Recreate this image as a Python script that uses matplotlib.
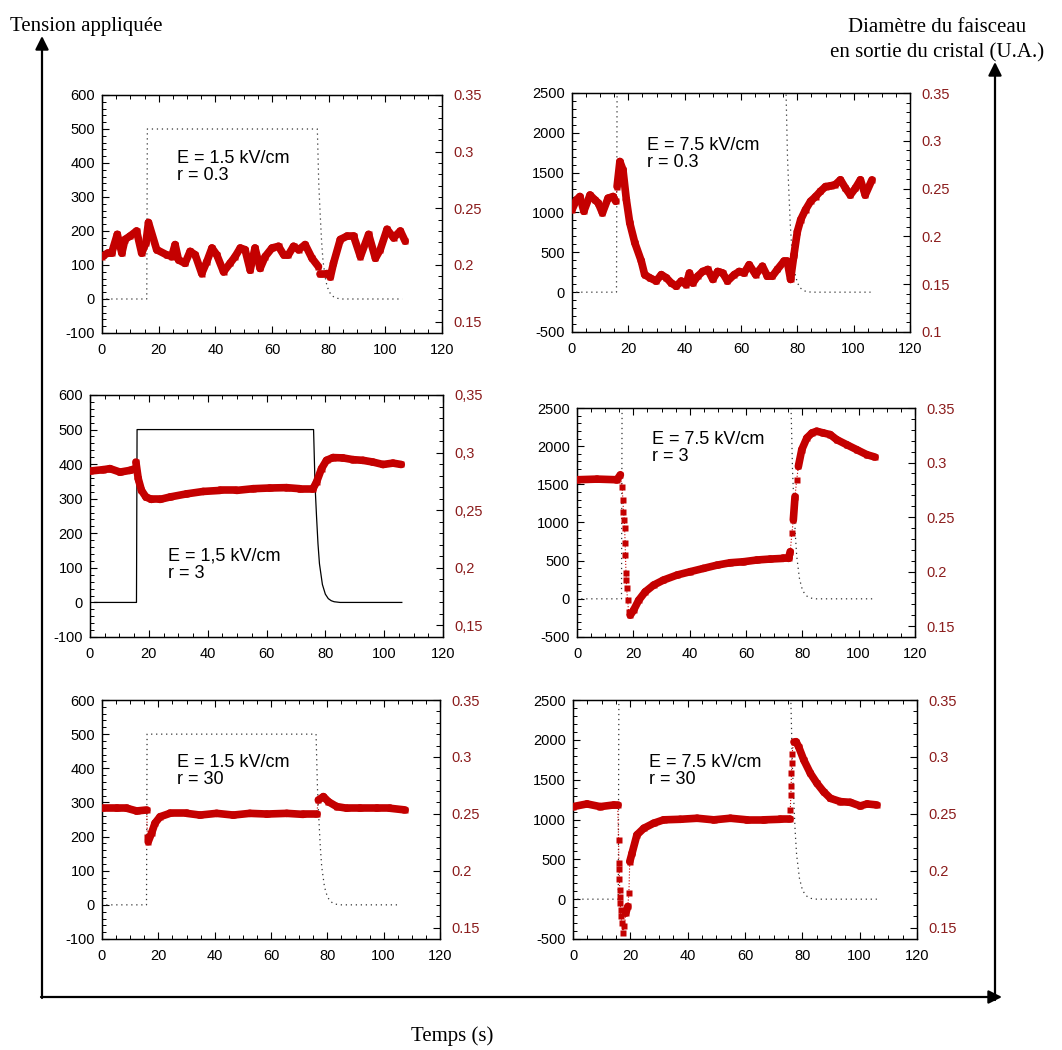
import numpy as np
import matplotlib.pyplot as plt
from matplotlib.collections import LineCollection
from matplotlib.ticker import MultipleLocator, FuncFormatter

plt.rcParams['axes.unicode_minus'] = False

RED = '#C40000'
TICK_RED = '#8B1C1C'
SANS = 'Liberation Sans'
SERIF = 'Liberation Serif'

# applied voltage (V) vs time (s)
t_volt = [1.5, 15.8, 16.0, 76.0, 76.5, 77.0, 77.5, 78.0, 79.0, 80.0, 81.0, 82.0, 83.0, 84.0, 85.0, 106.0]
v_15 = [0, 0, 500, 500, 340, 250, 170, 112, 52, 24, 11, 5, 2, 1, 0, 0]
v_75 = [0, 0, 2500, 2500, 1700, 1250, 850, 560, 260, 120, 55, 25, 10, 4, 0, 0]

# beam diameter (U.A.) vs time (s)
t_a = [0, 2, 3.4, 5.4, 7, 8.1, 9.9, 12.2, 14, 15.5, 16.4, 19.3, 22.8, 24.6, 25.8, 27, 29.3, 31.1,
       32.9, 35.2, 37, 38.8, 40.5, 42.9, 45.2, 47, 48.8, 50.5, 52.3, 54, 55.8, 57.6, 60, 62.3, 64.1,
       65.8, 67.6, 69.4, 71.7, 74.1, 76.4, 77, 79.4, 80.6, 81.7, 84.1, 86.5, 88.8, 91.2, 94.1, 96.5,
       98.2, 100.6, 102.9, 105.3, 107]
d_a = [0.2075, 0.2105, 0.2105, 0.227, 0.2105, 0.2225, 0.2255, 0.23, 0.2105, 0.2195, 0.2375, 0.2135,
       0.209, 0.2075, 0.218, 0.2045, 0.2015, 0.212, 0.209, 0.1925, 0.203, 0.215, 0.209, 0.194, 0.2015,
       0.2075, 0.215, 0.2135, 0.1955, 0.215, 0.197, 0.2075, 0.215, 0.2165, 0.209, 0.209, 0.2165,
       0.2135, 0.218, 0.206, 0.1985, 0.1925, 0.1925, 0.1895, 0.2015, 0.2225, 0.2255, 0.2255, 0.2075,
       0.227, 0.206, 0.2135, 0.2315, 0.224, 0.23, 0.221]

t_b = [0, 1.6, 2.8, 4.2, 6.4, 8.1, 9.3, 10.8, 12.8, 14.6, 15.5, 16, 17, 18.1, 19.3, 20.5, 22.3, 24.6,
       25.8, 27.6, 29.9, 31.7, 33.5, 35.2, 37, 38.8, 40.5, 41.7, 42.9, 44.6, 46.4, 48.2, 50, 51.7,
       53.5, 55.2, 57.6, 59.4, 61.1, 62.9, 65.2, 67.6, 69.4, 71.1, 72.9, 75.3, 76.4, 77.6, 78.8, 80,
       81.2, 82.9, 84.7, 86.5, 88.2, 90, 91.8, 93.5, 95.3, 97.1, 98.8, 100.6, 102.4, 104.1, 106.5]
d_b = [0.2279, 0.2383, 0.2417, 0.2263, 0.2433, 0.2383, 0.235, 0.2246, 0.24, 0.2417, 0.2367, 0.2521,
       0.2783, 0.2696, 0.2383, 0.2142, 0.1933, 0.1742, 0.16, 0.1567, 0.1533, 0.16, 0.1567, 0.1513,
       0.1479, 0.1533, 0.1496, 0.1617, 0.1513, 0.1583, 0.1633, 0.1654, 0.155, 0.1633, 0.1617, 0.1533,
       0.16, 0.1633, 0.1617, 0.1704, 0.16, 0.1688, 0.1583, 0.1583, 0.1654, 0.1742, 0.1742, 0.155,
       0.1808, 0.205, 0.2175, 0.2279, 0.2367, 0.2417, 0.2471, 0.2521, 0.2529, 0.2542, 0.2592, 0.2504,
       0.2433, 0.2504, 0.2592, 0.2433, 0.2592]

t_c = [0, 4.5, 6.8, 10.2, 13.6, 15.3, 15.6, 16.4, 17.5, 19, 20.9, 23.8, 27.2, 32.8, 38.5, 44.2, 49.8,
       55.5, 61.1, 66.8, 71.3, 75.8, 77, 78.7, 80.4, 82.6, 86, 89.4, 92.8, 96.2, 99.6, 103, 105.8]
d_c = [0.284, 0.2852, 0.2861, 0.2831, 0.2846, 0.2861, 0.2918, 0.2774, 0.2672, 0.2615, 0.2594, 0.2594,
       0.2615, 0.2642, 0.2663, 0.2672, 0.2672, 0.2687, 0.2693, 0.2696, 0.2687, 0.2687, 0.2744, 0.2861,
       0.2933, 0.2957, 0.2954, 0.2939, 0.2933, 0.2918, 0.2897, 0.2909, 0.2897]

t_d = [0, 7.1, 14.2, 15.4, 16, 16.3, 16.5, 16.8, 16.9, 17.1, 17.2, 17.4, 17.5, 17.6, 18, 18.3, 18.9,
       20.1, 21.9, 24.2, 27.2, 30.7, 35.5, 40.2, 44.9, 49.7, 54.4, 59.1, 63.8, 68.6, 73.3, 75.1, 75.7,
       76.3, 76.8, 77.4, 78, 78.6, 79.8, 81.6, 83.4, 85.1, 87.5, 89.9, 92.2, 95.8, 99.3, 102.9, 105.8]
d_d = [0.2842, 0.2848, 0.2842, 0.2888, 0.2779, 0.2657, 0.255, 0.2474, 0.2397, 0.2259, 0.2152, 0.1983,
       0.1922, 0.1845, 0.1737, 0.163, 0.16, 0.1646, 0.1737, 0.1814, 0.1876, 0.1922, 0.1968, 0.1999,
       0.2029, 0.2059, 0.2081, 0.209, 0.2106, 0.2115, 0.2121, 0.2121, 0.2183, 0.2351, 0.2474, 0.2688,
       0.2842, 0.2965, 0.3118, 0.3225, 0.3271, 0.3287, 0.3271, 0.3256, 0.321, 0.3163, 0.3118, 0.3072,
       0.305]

t_e = [0, 5.2, 8.8, 12.3, 15.9, 16.1, 16.4, 17.6, 18.8, 20.6, 24.1, 30.1, 34.8, 40.7, 46.6, 52.5,
       58.5, 65.6, 71.5, 76.2, 76.8, 78.6, 80.4, 83.3, 86.9, 91.6, 97.5, 102.2, 107.6]
d_e = [0.2549, 0.2549, 0.2549, 0.2525, 0.2534, 0.23, 0.2255, 0.233, 0.2417, 0.2474, 0.2504, 0.2504,
       0.2489, 0.2504, 0.2489, 0.2504, 0.2498, 0.2504, 0.2495, 0.2495, 0.2621, 0.2651, 0.2606, 0.2564,
       0.2549, 0.2549, 0.2549, 0.2549, 0.2534]

t_f = [0, 4.9, 9.5, 14.2, 15.6, 15.9, 16.0, 16.1, 16.2, 16.3, 16.4, 16.5, 16.6, 16.7, 17.1, 17.4,
       17.9, 18.4, 19.1, 19.5, 19.8, 20.6, 22.3, 24.7, 28.1, 31.6, 37.4, 43.3, 49.1, 54.9, 60.7, 66.5,
       72.3, 75.6, 75.8, 76.0, 76.1, 76.2, 76.3, 76.4, 77, 77.8, 78.7, 80.5, 82.8, 85.1, 87.4, 89.8,
       93.3, 96.7, 100.2, 102.6, 106]
d_f = [0.2563, 0.2587, 0.2563, 0.2578, 0.2578, 0.2271, 0.2072, 0.2013, 0.1926, 0.1832, 0.1773, 0.1715,
       0.1656, 0.1598, 0.1539, 0.1452, 0.151, 0.1627, 0.1686, 0.1803, 0.208, 0.2154, 0.2315, 0.2373,
       0.2417, 0.2447, 0.2452, 0.2461, 0.2447, 0.2461, 0.2447, 0.2447, 0.2452, 0.2452, 0.2534, 0.2666,
       0.2745, 0.2856, 0.2944, 0.3025, 0.3134, 0.3134, 0.309, 0.2973, 0.2856, 0.2768, 0.2695, 0.2636,
       0.2607, 0.2601, 0.2569, 0.2587, 0.2578]

fig = plt.figure(figsize=(10.62, 10.5), dpi=100)

# background layer for the big arrows and outer labels (pixel coords)
bg = fig.add_axes([0, 0, 1, 1], zorder=0)
bg.set_xlim(0, 1062)
bg.set_ylim(1050, 0)
bg.axis('off')
arrow = dict(arrowstyle='-|>', lw=1.6, color='black', mutation_scale=20, shrinkA=0, shrinkB=0)
bg.annotate('', xy=(42, 36), xytext=(42, 998), arrowprops=arrow)
bg.annotate('', xy=(1002, 997), xytext=(41, 997), arrowprops=arrow)
bg.annotate('', xy=(995, 62), xytext=(995, 1000), arrowprops=arrow)
bg.text(10, 27, 'Tension appliquée', family=SERIF, fontsize=15, va='center', ha='left')
bg.text(937, 28, 'Diamètre du faisceau', family=SERIF, fontsize=15, va='center', ha='center')
bg.text(937, 53, 'en sortie du cristal (U.A.)', family=SERIF, fontsize=15, va='center', ha='center')
bg.text(452, 1036, 'Temps (s)', family=SERIF, fontsize=15, va='center', ha='center')


def draw_trace(ax, t, d):
    t = np.asarray(t, float)
    d = np.asarray(d, float)
    pts = np.column_stack([t, d])
    segs = np.stack([pts[:-1], pts[1:]], axis=1)
    dense = np.diff(t) > 0.6
    ax.add_collection(LineCollection(segs[dense], colors=RED, linewidths=5.5,
                                     capstyle='round', zorder=3))
    ax.add_collection(LineCollection(segs[~dense], colors=RED, linewidths=0.8,
                                     linestyles=':', zorder=3))
    ax.plot(t, d, 's', color=RED, ms=4.5, mec='none', zorder=3)


# (pixel box l, t, r, b), voltage, solid?, trace, left lim, right lim, text, text y, comma decimals
panels = [
    ((102, 95, 442, 333), v_15, False, (t_a, d_a), (-100, 600), (0.14, 0.35), 'E = 1.5 kV/cm\nr = 0.3', 387, False),
    ((572, 93, 910, 332), v_75, False, (t_b, d_b), (-500, 2500), (0.10, 0.35), 'E = 7.5 kV/cm\nr = 0.3', 1740, False),
    ((90, 395, 443, 637), v_15, True, (t_c, d_c), (-100, 600), (0.14, 0.35), 'E = 1,5 kV/cm\nr = 3', 109, True),
    ((577, 408, 915, 637), v_75, False, (t_d, d_d), (-500, 2500), (0.14, 0.35), 'E = 7.5 kV/cm\nr = 3', 1971, False),
    ((102, 700, 440, 939), v_15, False, (t_e, d_e), (-100, 600), (0.14, 0.35), 'E = 1.5 kV/cm\nr = 30', 391, False),
    ((573, 700, 917, 939), v_75, False, (t_f, d_f), (-500, 2500), (0.14, 0.35), 'E = 7.5 kV/cm\nr = 30', 1605, False),
]

W, H = 1062, 1050
for box, volt, solid, trace, ylim, rlim, label, ytext, comma in panels:
    l, t, r, b = box
    ax = fig.add_axes([l / W, 1 - b / H, (r - l) / W, (b - t) / H], zorder=1)
    if solid:
        ax.plot(t_volt, volt, color='black', lw=0.9)
    else:
        ax.plot(t_volt, volt, color='#333333', lw=0.9, linestyle=(0, (1, 3)))
    ax.set_xlim(0, 120)
    ax.set_ylim(*ylim)
    ax.set_xticks(np.arange(0, 121, 20))
    ax.xaxis.set_minor_locator(MultipleLocator(5))
    if ylim[1] == 600:
        ax.set_yticks(np.arange(-100, 601, 100))
        ax.yaxis.set_minor_locator(MultipleLocator(20))
    else:
        ax.set_yticks(np.arange(-500, 2501, 500))
        ax.yaxis.set_minor_locator(MultipleLocator(100))
    ax.tick_params(which='both', direction='in', top=True, right=False, labelsize=10.5)
    ax.tick_params(axis='x', pad=7)
    ax.tick_params(axis='y', pad=5)
    ax.tick_params(which='major', length=5, width=0.8)
    ax.tick_params(which='minor', length=3, width=0.7)
    for lab in ax.get_xticklabels() + ax.get_yticklabels():
        lab.set_family(SANS)
    ax.text(26.5, ytext, label, family=SANS, fontsize=13, va='center', ha='left',
            linespacing=1.0)

    ax2 = ax.twinx()
    ax2.set_ylim(*rlim)
    ax2.set_yticks(np.arange(0.35, rlim[0] - 1e-9, -0.05))
    ax2.yaxis.set_minor_locator(MultipleLocator(0.01))
    fmt = (lambda v, p: f'{v:g}'.replace('.', ',')) if comma else (lambda v, p: f'{v:g}')
    ax2.yaxis.set_major_formatter(FuncFormatter(fmt))
    ax2.tick_params(which='both', direction='in', labelsize=10.5, labelcolor=TICK_RED, pad=8)
    ax2.tick_params(which='major', length=5, width=0.8)
    ax2.tick_params(which='minor', length=3, width=0.7)
    for lab in ax2.get_yticklabels():
        lab.set_family(SANS)
    draw_trace(ax2, *trace)
    for sp in list(ax.spines.values()) + list(ax2.spines.values()):
        sp.set_linewidth(0.9)

fig.savefig('out.png', dpi=100)
